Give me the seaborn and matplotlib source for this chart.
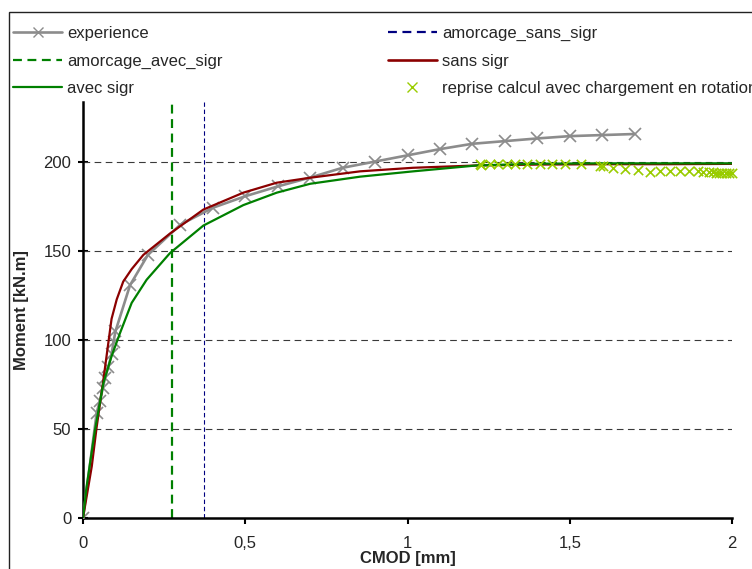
import matplotlib
matplotlib.use("Agg")
import matplotlib.pyplot as plt
import seaborn as sns
from matplotlib.lines import Line2D
from matplotlib.patches import Rectangle

# Données (CMOD en mm, moment en kN.m)
exp_x = [0, 0.042, 0.052, 0.061, 0.068, 0.078, 0.088, 0.094, 0.1, 0.145, 0.2, 0.3, 0.4,
         0.5, 0.6, 0.7, 0.8, 0.9, 1.0, 1.1, 1.2, 1.3, 1.4, 1.5, 1.6, 1.7]
exp_y = [0, 59, 66, 73, 79, 85, 92, 99, 105, 131, 148, 165, 174.5,
         181, 186.5, 191.5, 197, 200.5, 204, 207.5, 210.5, 212, 213.5, 214.8, 215.4, 216]

sans_x = [0, 0.027, 0.042, 0.063, 0.088, 0.104, 0.124, 0.15, 0.186, 0.268, 0.371, 0.494,
          0.597, 0.7, 0.854, 1.017, 1.213, 1.4, 1.6, 1.8, 2.0]
sans_y = [0, 29, 51, 78, 112, 123, 133, 140, 148, 160, 173.5, 183,
          188.6, 191.4, 195, 197, 198.3, 198.8, 199, 199, 199.2]

avec_x = [0, 0.011, 0.037, 0.063, 0.088, 0.114, 0.15, 0.196, 0.268, 0.371, 0.494, 0.597,
          0.7, 0.854, 1.018, 1.213, 1.4, 1.6, 1.8, 2.0]
avec_y = [0, 17.6, 49.6, 76, 91, 104, 121, 134, 149, 164.5, 176, 183,
          188, 192, 195, 198.3, 199.3, 199.5, 199.5, 199.5]

rep_x = [1.223, 1.228, 1.254, 1.28, 1.306, 1.331, 1.367, 1.408, 1.444, 1.485,
         1.536, 1.593, 1.603, 1.634, 1.670, 1.711, 1.747, 1.778, 1.809, 1.840,
         1.866, 1.896, 1.911, 1.93, 1.94, 1.95, 1.96, 1.97, 1.98, 1.99, 2.0]
rep_y = [199, 198.8, 199, 199, 199, 199, 199, 199.3, 199, 199,
         199, 198, 198, 197, 196.5, 195.5, 194.8, 195, 195, 195,
         195, 195, 194.8, 194.5, 194.5, 194.3, 194.3, 194.2, 194.2, 194, 194]

amorcage_avec = 0.275
amorcage_sans = 0.373

x_ticks = [0, 0.5, 1, 1.5, 2]
x_tick_labels = ["0", "0,5", "1", "1,5", "2"]
y_ticks = [0, 50, 100, 150, 200]

C_EXP = "#8c8c8c"
C_SANS = "#8b0000"
C_AVEC = "#008000"
C_BLEU = "#000080"
C_REP = "#99cc00"

sns.set_theme(style="white")
plt.rcParams['font.family'] = ['Liberation Sans', 'DejaVu Sans']

fig = plt.figure(figsize=(7.52, 5.69), dpi=100)
ax = fig.add_axes([83 / 752, 1 - 518 / 569, (732 - 83) / 752, (518 - 102) / 569])

# cadre extérieur (coupé à droite et en bas)
fig.patches.append(Rectangle((9 / 752, -0.1), 1.2, 1 - 12 / 569 + 0.1, transform=fig.transFigure,
                             fill=False, edgecolor="#222222", linewidth=1.0))

for yv in y_ticks[1:]:
    ax.axhline(yv, color="#3a3a3a", linewidth=0.8, dashes=(6, 4), zorder=1)

sns.lineplot(x=exp_x, y=exp_y, ax=ax, color=C_EXP, linewidth=1.9, marker="x",
             markersize=8, markeredgewidth=1.2, markeredgecolor=C_EXP, zorder=3)
sns.lineplot(x=sans_x, y=sans_y, ax=ax, color=C_SANS, linewidth=1.6, zorder=4)
sns.lineplot(x=avec_x, y=avec_y, ax=ax, color=C_AVEC, linewidth=1.6, zorder=5)
sns.scatterplot(x=rep_x, y=rep_y, ax=ax, color=C_REP, marker="x", s=45, linewidth=1.2,
                zorder=6, clip_on=False)

ax.axvline(amorcage_avec, color=C_AVEC, linewidth=1.6, dashes=(4, 2.5), zorder=2)
ax.axvline(amorcage_sans, color=C_BLEU, linewidth=0.8, dashes=(4, 2.5), zorder=2)

ax.set_xlim(0, 2)
ax.set_ylim(0, 234)
ax.set_xticks(x_ticks)
ax.set_xticklabels(x_tick_labels)
ax.set_yticks(y_ticks)
ax.tick_params(axis="x", direction="out", length=4, width=1.5, pad=9, labelsize=12,
               color="black", bottom=True)
ax.tick_params(axis="y", direction="inout", length=7, width=1.5, pad=5, labelsize=12,
               color="black", left=True)
for s in ["top", "right"]:
    ax.spines[s].set_visible(False)
for s in ["left", "bottom"]:
    ax.spines[s].set_color("black")
    ax.spines[s].set_linewidth(1.8)

ax.set_xlabel("CMOD [mm]", fontsize=12, fontweight="bold", labelpad=0)
ax.set_ylabel("Moment [kN.m]", fontsize=12, fontweight="bold", labelpad=10)

handles = [
    Line2D([], [], color=C_EXP, linewidth=1.9, marker="x", markersize=7, markeredgewidth=1.0),
    Line2D([], [], color=C_AVEC, linewidth=1.6, dashes=(4, 2.5)),
    Line2D([], [], color=C_AVEC, linewidth=1.6),
    Line2D([], [], color=C_BLEU, linewidth=1.6, dashes=(4, 2.5)),
    Line2D([], [], color=C_SANS, linewidth=1.9),
    Line2D([], [], color=C_REP, linestyle="none", marker="x", markersize=7, markeredgewidth=1.0),
]
labels = ["experience", "amorcage_avec_sigr", "avec sigr",
          "amorcage_sans_sigr", "sans sigr", "reprise calcul avec chargement en rotation"]
fig.legend(handles, labels, loc="upper left", bbox_to_anchor=(13 / 752, 1 - 26 / 569),
           ncol=2, frameon=False, fontsize=12, borderpad=0, borderaxespad=0,
           handlelength=2.95, handletextpad=0.3, columnspacing=9.9, labelspacing=0.75)

fig.savefig("out.png", dpi=100)
